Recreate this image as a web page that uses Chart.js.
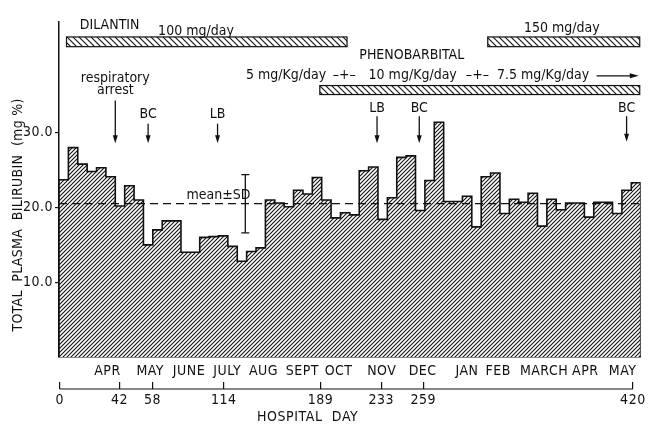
<!DOCTYPE html>
<html>
<head>
<meta charset="utf-8">
<script src="https://cdn.jsdelivr.net/npm/chart.js@4.4.0/dist/chart.umd.min.js"></script>
<style>
  html, body { margin: 0; padding: 0; background: #fff; }
</style>
</head>
<body>
<canvas id="c" width="648" height="424"></canvas>
<script>
// weekly mean total plasma bilirubin (mg %), one value per step
const bilirubin = [23.7, 28.0, 25.8, 24.8, 25.3, 24.1, 20.2, 22.9, 21.0, 15.0,
  17.0, 18.2, 18.2, 14.0, 14.0, 16.0, 16.1, 16.2, 14.8, 12.8,
  14.1, 14.6, 21.0, 20.6, 20.1, 22.3, 21.8, 24.0, 21.0, 18.6,
  19.3, 19.0, 24.9, 25.4, 18.4, 21.3, 26.7, 26.9, 19.6, 23.6,
  31.4, 20.8, 20.8, 21.5, 17.4, 24.1, 24.6, 19.2, 21.1, 20.7,
  21.9, 17.5, 21.1, 19.7, 20.6, 20.6, 18.7, 20.7, 20.7, 19.2,
  22.3, 23.3];
const meanValue = 20.5;
const sdLow = 16.6;
const sdHigh = 24.4;
const sdAt = 19.86;

const yTicks = [10, 20, 30];

// month labels and where they sit along the week axis
const monthNames = ['APR', 'MAY', 'JUNE', 'JULY', 'AUG', 'SEPT', 'OCT', 'NOV', 'DEC', 'JAN', 'FEB', 'MARCH', 'APR', 'MAY'];
const monthPos = [5.16, 9.72, 13.85, 17.93, 21.8, 25.94, 29.8, 34.4, 38.76, 43.48, 46.82, 51.7, 56.1, 60.07];

// hospital day ticks
const dayLabels = ['0', '42', '58', '114', '189', '233', '259', '420'];
const dayPos = [0.07, 6.44, 9.97, 17.56, 27.88, 34.36, 38.82, 61.17];

// drug bars (dilantin 100, dilantin 150, phenobarbital)
const drugStart = [0.8, 45.7, 27.8];
const drugEnd = [30.7, 61.9, 61.9];
const drugTop = [42.8, 42.8, 36.3];
const drugBottom = [41.5, 41.5, 35.1];

// text notes
const noteText = ['DILANTIN', '100 mg/day', '150 mg/day', 'PHENOBARBITAL', '5 mg/Kg/day', '–+–',
  '10 mg/Kg/day', '–+–', '7.5 mg/Kg/day', 'respiratory', 'arrest', 'mean±SD'];
const noteX = [5.4, 14.6, 53.6, 37.6, 24.2, 30.4, 37.7, 44.6, 51.6, 6.0, 6.0, 17.0];
const noteY = [44.4, 43.6, 44.0, 40.4, 37.6, 37.6, 37.6, 37.6, 37.6, 37.3, 35.6, 21.6];

// event arrows
const eventText = ['', 'BC', 'LB', 'LB', 'BC', 'BC'];
const eventX = [6.0, 9.5, 16.9, 33.9, 38.4, 60.5];
const eventLabelY = [0, 32.4, 32.4, 33.3, 33.3, 33.3];
const arrowFrom = [34.3, 31.2, 31.2, 32.2, 32.2, 32.2];
const arrowTo = [28.6, 28.6, 28.6, 28.6, 28.6, 28.8];
// dose continues ->
const doseArrow = [57.3, 61.8, 37.6];

const INK = '#111';
const FONT = "'Liberation Sans Narrow', 'DejaVu Sans Condensed', sans-serif";

const canvas = document.getElementById('c');
const ctx = canvas.getContext('2d');

function hatch(size, forward, lw) {
  const c = document.createElement('canvas');
  c.width = c.height = size;
  const g = c.getContext('2d');
  g.fillStyle = '#fff';
  g.fillRect(0, 0, size, size);
  g.strokeStyle = INK;
  g.lineWidth = lw;
  g.beginPath();
  if (forward) {
    g.moveTo(-1, size + 1); g.lineTo(size + 1, -1);
    g.moveTo(-1, 1); g.lineTo(1, -1);
    g.moveTo(size - 1, size + 1); g.lineTo(size + 1, size - 1);
  } else {
    g.moveTo(-1, -1); g.lineTo(size + 1, size + 1);
    g.moveTo(size - 1, -1); g.lineTo(size + 1, 1);
    g.moveTo(-1, size - 1); g.lineTo(1, size + 1);
  }
  g.stroke();
  return ctx.createPattern(c, 'repeat');
}
const barHatch = hatch(4, true, 1.1);
const drugHatch = hatch(6, false, 1.1);

const n = bilirubin.length;
const histPoints = [{ x: 0, y: 0 }]
  .concat(bilirubin.map((v, i) => ({ x: i + 1, y: v })))
  .concat([{ x: n, y: 0 }]);

function arrowDown(px, y0, y1) {
  ctx.beginPath(); ctx.moveTo(px, y0); ctx.lineTo(px, y1 - 5); ctx.stroke();
  ctx.beginPath(); ctx.moveTo(px - 2.5, y1 - 8); ctx.lineTo(px + 2.5, y1 - 8); ctx.lineTo(px, y1);
  ctx.closePath(); ctx.fill();
}

const overlay = {
  id: 'overlay',
  beforeDraw(chart) { chart.ctx.letterSpacing = '0.5px'; },
  afterDraw(chart) {
    const { x, y, d } = chart.scales;
    ctx.save();
    ctx.letterSpacing = '0px';
    ctx.strokeStyle = INK;
    ctx.fillStyle = INK;

    // drug bars
    drugStart.forEach((s, i) => {
      const l = x.getPixelForValue(s), r = x.getPixelForValue(drugEnd[i]);
      const t = y.getPixelForValue(drugTop[i]), b = y.getPixelForValue(drugBottom[i]);
      ctx.fillStyle = drugHatch;
      ctx.fillRect(l, t, r - l, b - t);
      ctx.lineWidth = 1.2;
      ctx.strokeRect(l, t, r - l, b - t);
    });

    ctx.fillStyle = INK;
    ctx.font = '14px ' + FONT;
    ctx.textAlign = 'center';
    ctx.textBaseline = 'middle';
    noteText.forEach((s, i) => {
      ctx.fillText(s, x.getPixelForValue(noteX[i]), y.getPixelForValue(noteY[i]));
    });

    // arrows
    ctx.lineWidth = 1.3;
    eventX.forEach((ev, i) => {
      const px = x.getPixelForValue(ev);
      if (eventText[i]) ctx.fillText(eventText[i], px, y.getPixelForValue(eventLabelY[i]));
      arrowDown(px, y.getPixelForValue(arrowFrom[i]), y.getPixelForValue(arrowTo[i]));
    });
    const ay = y.getPixelForValue(doseArrow[2]);
    const ax0 = x.getPixelForValue(doseArrow[0]), ax1 = x.getPixelForValue(doseArrow[1]);
    ctx.beginPath(); ctx.moveTo(ax0, ay); ctx.lineTo(ax1 - 5, ay); ctx.stroke();
    ctx.beginPath(); ctx.moveTo(ax1 - 9, ay - 2.5); ctx.lineTo(ax1, ay); ctx.lineTo(ax1 - 9, ay + 2.5);
    ctx.closePath(); ctx.fill();

    // hospital day axis line
    const ly = d.top + d.options.grid.tickLength;
    ctx.lineWidth = 1.2;
    ctx.beginPath();
    ctx.moveTo(d.getPixelForValue(dayPos[0]), ly);
    ctx.lineTo(d.getPixelForValue(dayPos[dayPos.length - 1]), ly);
    ctx.stroke();

    // axis titles
    ctx.letterSpacing = '0.6px';
    ctx.fillText('HOSPITAL  DAY', x.getPixelForValue(26.5), d.bottom - 7);
    ctx.translate(18, y.getPixelForValue(19));
    ctx.rotate(-Math.PI / 2);
    ctx.letterSpacing = '0.3px';
    ctx.fillText('TOTAL  PLASMA  BILIRUBIN  (mg %)', 0, 0);
    ctx.restore();
  }
};

new Chart(ctx, {
  type: 'line',
  data: {
    datasets: [
      {
        data: [{ x: 0, y: meanValue }, { x: n, y: meanValue }],
        borderColor: INK,
        borderWidth: 1.3,
        borderDash: [8, 5],
        pointRadius: 0,
        order: 0,
      },
      {
        data: [{ x: sdAt, y: sdLow }, { x: sdAt, y: sdHigh }],
        borderColor: INK,
        borderWidth: 1.3,
        pointStyle: 'line',
        pointRadius: 4,
        pointBorderWidth: 1.3,
        pointBorderColor: INK,
        order: 1,
      },
      {
        data: histPoints,
        stepped: 'after',
        fill: 'origin',
        backgroundColor: barHatch,
        borderColor: INK,
        borderWidth: 1.6,
        pointRadius: 0,
        order: 2,
      },
    ],
  },
  options: {
    responsive: false,
    devicePixelRatio: 1,
    animation: false,
    events: [],
    layout: { padding: { top: 22, right: 4, bottom: 0, left: 0 } },
    plugins: { legend: { display: false }, tooltip: { enabled: false } },
    scales: {
      x: {
        type: 'linear', min: 0, max: n, position: 'bottom', weight: 0,
        ticks: { display: false },
        grid: { display: false, drawTicks: false },
        border: { display: true, color: INK, width: 1.5 },
        afterFit: s => { s.height = 1; },
      },
      m: {
        type: 'linear', min: 0, max: n, position: 'bottom', weight: 1,
        afterBuildTicks: s => { s.ticks = monthPos.map(v => ({ value: v })); },
        ticks: {
          autoSkip: false, maxRotation: 0, minRotation: 0, padding: 5,
          color: INK, font: { family: FONT, size: 14 },
          callback: (v, i) => monthNames[i],
        },
        grid: { display: false, drawTicks: false },
        border: { display: false },
        afterFit: s => { s.height = 24; },
      },
      d: {
        type: 'linear', min: 0, max: n, position: 'bottom', weight: 2,
        afterBuildTicks: s => { s.ticks = dayPos.map(v => ({ value: v })); },
        ticks: {
          autoSkip: false, maxRotation: 0, minRotation: 0, padding: 3,
          color: INK, font: { family: FONT, size: 14 },
          callback: (v, i) => dayLabels[i],
        },
        grid: { display: true, drawOnChartArea: false, drawTicks: true, tickLength: 7, color: INK, lineWidth: 1.2 },
        border: { display: false },
        afterFit: s => { s.height = 42; },
      },
      y: {
        min: 0, max: 44.8,
        afterBuildTicks: s => { s.ticks = yTicks.map(v => ({ value: v })); },
        ticks: {
          color: INK, padding: 2, font: { family: FONT, size: 14 },
          callback: v => v.toFixed(1),
        },
        grid: { display: true, drawOnChartArea: false, drawTicks: true, tickLength: 4, color: INK, lineWidth: 1.2 },
        border: { display: true, color: INK, width: 1.5 },
        afterFit: s => { s.width = 59; },
      },
    },
  },
  plugins: [overlay],
});
</script>
</body>
</html>
